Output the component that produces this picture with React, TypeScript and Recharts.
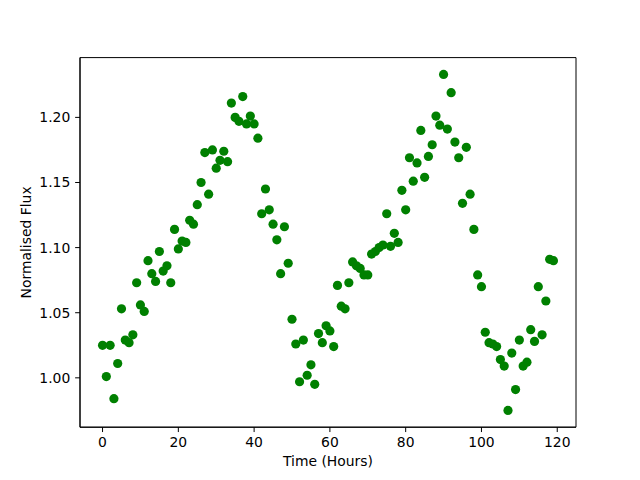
import React from 'react';
import { ScatterChart, Scatter, XAxis, YAxis, ReferenceArea, Label } from 'recharts';

const hours = [
  0, 1, 2, 3, 4, 5, 6, 7, 8, 9, 10, 11, 12, 13, 14, 15, 16, 17, 18, 19,
  20, 21, 22, 23, 24, 25, 26, 27, 28, 29, 30, 31, 32, 33, 34, 35, 36, 37, 38, 39,
  40, 41, 42, 43, 44, 45, 46, 47, 48, 49, 50, 51, 52, 53, 54, 55, 56, 57, 58, 59,
  60, 61, 62, 63, 64, 65, 66, 67, 68, 69, 70, 71, 72, 73, 74, 75, 76, 77, 78, 79,
  80, 81, 82, 83, 84, 85, 86, 87, 88, 89, 90, 91, 92, 93, 94, 95, 96, 97, 98, 99,
  100, 101, 102, 103, 104, 105, 106, 107, 108, 109, 110, 111, 112, 113, 114, 115, 116, 117, 118, 119,
];

const flux = [
  1.025, 1.001, 1.025, 0.984, 1.011, 1.053, 1.029, 1.027, 1.033, 1.073,
  1.056, 1.051, 1.090, 1.080, 1.074, 1.097, 1.082, 1.086, 1.073, 1.114,
  1.099, 1.105, 1.104, 1.121, 1.118, 1.133, 1.150, 1.173, 1.141, 1.175,
  1.161, 1.167, 1.174, 1.166, 1.211, 1.200, 1.197, 1.216, 1.195, 1.201,
  1.195, 1.184, 1.126, 1.145, 1.129, 1.118, 1.106, 1.080, 1.116, 1.088,
  1.045, 1.026, 0.997, 1.029, 1.002, 1.010, 0.995, 1.034, 1.027, 1.040,
  1.036, 1.024, 1.071, 1.055, 1.053, 1.073, 1.089, 1.086, 1.084, 1.079,
  1.079, 1.095, 1.097, 1.100, 1.102, 1.126, 1.101, 1.111, 1.104, 1.144,
  1.129, 1.169, 1.151, 1.165, 1.190, 1.154, 1.170, 1.179, 1.201, 1.194,
  1.233, 1.191, 1.219, 1.181, 1.169, 1.134, 1.177, 1.141, 1.114, 1.079,
  1.070, 1.035, 1.027, 1.026, 1.024, 1.014, 1.009, 0.975, 1.019, 0.991,
  1.029, 1.009, 1.012, 1.037, 1.028, 1.070, 1.033, 1.059, 1.091, 1.090,
];

const xTicks = [0, 20, 40, 60, 80, 100, 120];
const yTicks = [1.0, 1.05, 1.1, 1.15, 1.2];

const data = hours.map((h, i) => ({ t: h, f: flux[i] }));

const xMinD = Math.min(...hours);
const xMaxD = Math.max(...hours);
const xPad = (xMaxD - xMinD) * 0.05;
const xDomain: [number, number] = [xMinD - xPad, xMaxD + xPad];

const yMinD = Math.min(...flux);
const yMaxD = Math.max(...flux);
const yPad = (yMaxD - yMinD) * 0.05;
const yDomain: [number, number] = [yMinD - yPad, yMaxD + yPad];

const FONT = 'DejaVu Sans';
const FS = 13.9;

const Dot = (props: any) => {
  const { cx, cy } = props;
  if (cx == null || cy == null) return null;
  return <circle cx={cx} cy={cy} r={4.6} fill="#008000" />;
};

export default function App() {
  return (
    <div style={{ position: 'absolute', left: 0, top: 0, width: 640, height: 480, background: '#fff' }}>
      <ScatterChart width={640} height={480} margin={{ top: 57.6, right: 64, bottom: 0, left: 0 }}>
        <XAxis
          type="number"
          dataKey="t"
          domain={xDomain}
          ticks={xTicks}
          allowDataOverflow
          height={52.8}
          tickSize={4.86}
          tickMargin={4.86}
          stroke="#000"
          axisLine={{ stroke: '#000' }}
          tickLine={{ stroke: '#000' }}
          tick={{ fill: '#000', fontSize: FS, fontFamily: FONT }}
        >
          <Label
            value="Time (Hours)"
            position="insideBottom"
            offset={14}
            style={{ fill: '#000', fontSize: FS, fontFamily: FONT }}
          />
        </XAxis>
        <YAxis
          type="number"
          dataKey="f"
          domain={yDomain}
          ticks={yTicks}
          allowDataOverflow
          width={80}
          tickSize={4.86}
          tickMargin={4.86}
          stroke="#000"
          axisLine={{ stroke: '#000' }}
          tickLine={{ stroke: '#000' }}
          tickFormatter={(v: number) => v.toFixed(2)}
          tick={{ fill: '#000', fontSize: FS, fontFamily: FONT }}
        >
          <Label
            value="Normalised Flux"
            position="insideLeft"
            angle={-90}
            offset={26}
            style={{ fill: '#000', fontSize: FS, fontFamily: FONT, textAnchor: 'middle' }}
          />
        </YAxis>
        <ReferenceArea
          x1={xDomain[0]}
          x2={xDomain[1]}
          y1={yDomain[0]}
          y2={yDomain[1]}
          fill="none"
          fillOpacity={0}
          stroke="#000"
          strokeWidth={1}
          ifOverflow="extendDomain"
        />
        <Scatter data={data} shape={<Dot />} isAnimationActive={false} />
      </ScatterChart>
    </div>
  );
}
